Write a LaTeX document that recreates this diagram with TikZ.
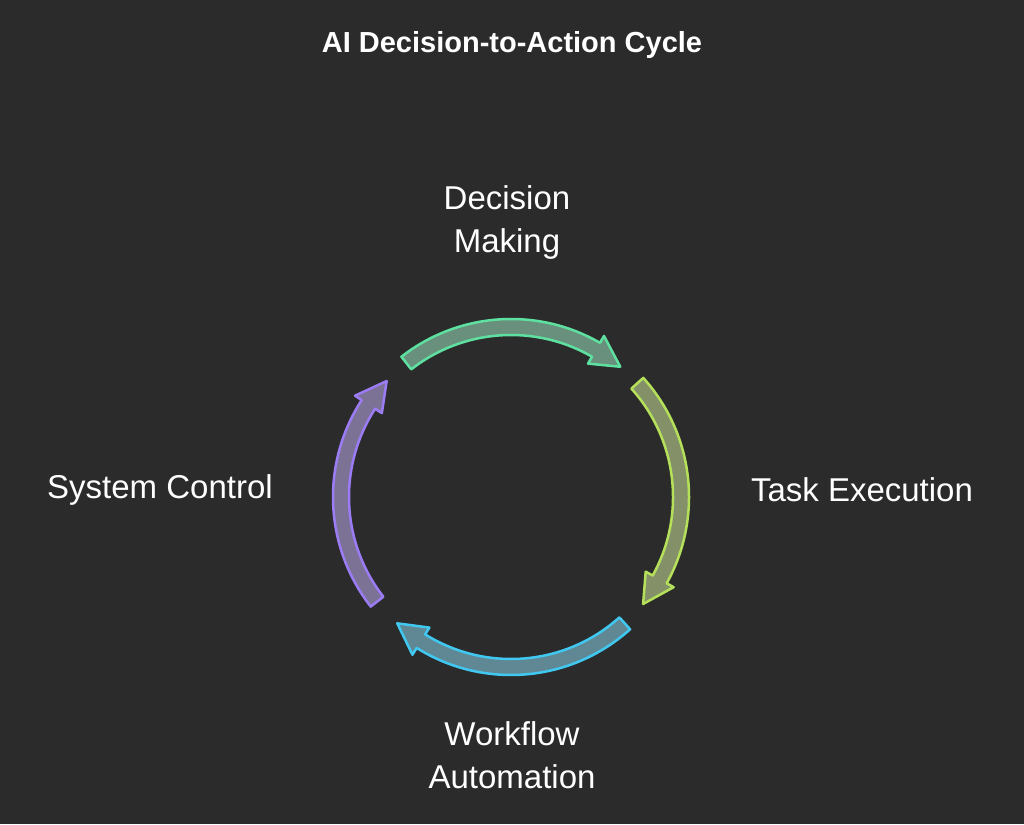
\documentclass[tikz,border=0pt]{standalone}
\usepackage{fontspec}
\setmainfont{Liberation Sans}
\usetikzlibrary{positioning,calc}
\definecolor{bg}{HTML}{2B2B2B}
\definecolor{cgreen}{HTML}{5EE0A0}
\definecolor{clime}{HTML}{B5E05A}
\definecolor{cblue}{HTML}{40C8F0}
\definecolor{cviolet}{HTML}{9B7CF5}
% clockwise curved arrow: start angle, end angle, colour
\newcommand{\cyclearrow}[3]{%
  \draw[line width=2.5pt, line join=round, draw=#3, fill=#3!35!gray!85!bg]
    (#1:178) arc[start angle=#1, end angle=#2+10, radius=178]
    -- (#2+10:186) -- (#2:170) -- (#2+10:154) -- (#2+10:162)
    arc[start angle=#2+10, end angle=#1, radius=162] -- cycle;}
\begin{document}
\begin{tikzpicture}[x=1pt,y=1pt,every node/.style={text=white,font=\fontsize{33}{43}\selectfont,align=center}]
	\fill[bg] (0,0) rectangle (1024,824);
	\node (title) at (512,779) {\fontsize{29}{34}\selectfont\bfseries AI Decision-to-Action Cycle};
	% labels
	\node (decide) at (507,602) {Decision\\Making};
	\node (task) at (862,334) {Task Execution};
	\node (flow) at (512,69) {Workflow\\Automation};
	\node (control) at (160,334) {System Control};
	% cycle arrows
	\begin{scope}[shift={(511,327)}]
		\cyclearrow{128}{50}{cgreen}
		\cyclearrow{42}{-39}{clime}
		\cyclearrow{-48}{-132}{cblue}
		\cyclearrow{-142}{-223}{cviolet}
	\end{scope}
\end{tikzpicture}
\end{document}
